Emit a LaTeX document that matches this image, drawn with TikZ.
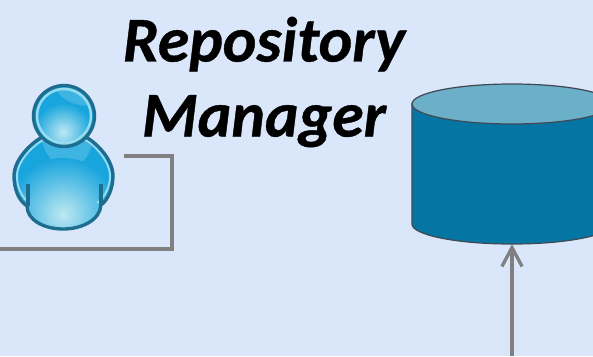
\documentclass[tikz,border=0pt]{standalone}
\usepackage{fontspec}
\setmainfont[BoldItalicFeatures={FakeBold=0.6}]{Carlito}
\usetikzlibrary{arrows.meta, positioning, shapes.geometric}
\definecolor{paleblue}{RGB}{218,230,249}
\definecolor{dbblue}{RGB}{5,117,163}
\definecolor{dbtop}{RGB}{107,175,201}
\definecolor{dbline}{RGB}{64,74,85}
\definecolor{linkgray}{RGB}{128,128,128}
\definecolor{userdark}{RGB}{28,109,143}
\definecolor{userring}{RGB}{150,220,238}
\definecolor{userblue}{RGB}{24,165,221}
\definecolor{usersoft}{RGB}{62,180,226}
\definecolor{userglow}{RGB}{190,232,242}

\begin{document}
\begin{tikzpicture}[x=0.02cm, y=-0.02cm, >=Stealth,
        title/.style={align=center, font=\fontsize{36.3}{42.7}\selectfont\bfseries\itshape, inner sep=0pt},
        dbbox/.style={minimum width=4cm, minimum height=3.2cm, inner sep=0pt, outer sep=0pt},
        dbshape/.style={draw=dbline, line width=0.7pt},
        link/.style={draw=linkgray, line width=1.9pt},
        outline/.style={draw=userdark, line width=1.9pt}]

        % Page
        \fill[paleblue] (0,0) rectangle (593,356);
        \useasboundingbox (0,0) rectangle (593,356);
        \clip (0,0) rectangle (593,356);

        % Title
        \node[title] (title) at (264,82) {Repository\\Manager};

        % Database
        \node[dbbox] (db) at (512,164) {};
        \draw[dbshape, fill=dbblue] (412,104) -- (412,224) arc[start angle=180, end angle=0, x radius=100, y radius=20] -- (612,104) -- cycle;
        \draw[dbshape, fill=dbtop] (512,104) ellipse [x radius=100, y radius=20];

        % User body
        \begin{scope}
            \clip (27,206) .. controls (18,200) and (14,188) .. (14,176) .. controls (14,159) and (32,142) .. (44,136) -- (84,136) .. controls (96,142) and (113,159) .. (113,176) .. controls (113,188) and (108,200) .. (101,205) .. controls (100,220) and (82,229) .. (63,229) .. controls (44,229) and (27,220) .. (27,206) -- cycle;
            \fill[userblue] (0,120) rectangle (130,240);
            \fill[usersoft] (40,130) .. controls (44,175) and (85,182) .. (93,140) -- cycle;
            \shade[inner color=userglow, outer color=userblue] (63,214) circle (56);
        \end{scope}
        \draw[userring, line width=1.1pt] (30,203) .. controls (21,197) and (17,187) .. (17,176) .. controls (17,161) and (33,145) .. (45,139);
        \draw[userring, line width=1.1pt] (97,203) .. controls (105,197) and (110,187) .. (110,176) .. controls (110,161) and (95,145) .. (84,139);
        \draw[outline] (27,206) .. controls (18,200) and (14,188) .. (14,176) .. controls (14,159) and (32,142) .. (44,136) -- (84,136) .. controls (96,142) and (113,159) .. (113,176) .. controls (113,188) and (108,200) .. (101,205) .. controls (100,220) and (82,229) .. (63,229) .. controls (44,229) and (27,220) .. (27,206) -- cycle;
        \draw[outline] (28,184) -- (28,206);
        \draw[outline] (101,184) -- (101,205);

        % User head
        \begin{scope}
            \clip (64,116) circle (31);
            \fill[userblue] (30,80) rectangle (100,150);
            \fill[usersoft] (56,88) .. controls (62,104) and (84,108) .. (96,104) -- (96,84) -- cycle;
            \shade[inner color=userglow, outer color=userblue] (63,132) circle (29);
        \end{scope}
        \draw[userring, line width=1.4pt] (64,116) circle (27);
        \draw[outline] (64,116) circle (30.5);

        % Connectors
        \coordinate (userside) at (124,156);
        \coordinate (corner) at (172,249);
        \coordinate (leftend) at (0,249);
        \coordinate (footend) at (512,356);
        \draw[link] (userside) -| (corner) -- (leftend);
        \draw[link, -{Straight Barb[length=10.8pt, width=11.5pt]}] (footend) -- (db.south);
\end{tikzpicture}
\end{document}
